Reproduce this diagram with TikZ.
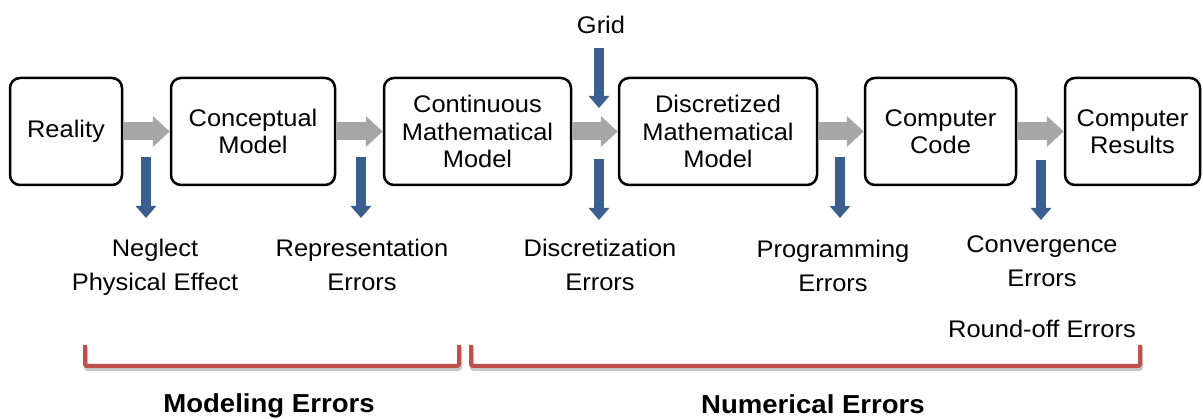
\documentclass[tikz,border=0pt]{standalone}
\usepackage{fontspec}
\setmainfont[FakeStretch=1.06]{Liberation Sans}
\usetikzlibrary{arrows.meta}
\definecolor{arrowgray}{HTML}{A6A6A6}
\definecolor{errblue}{HTML}{3A5F8F}
\definecolor{bracketred}{HTML}{C0504D}
\begin{document}
\begin{tikzpicture}[x=1pt,y=-1pt,
  box/.style={draw=black, line width=2.5pt, rounded corners=10pt, minimum height=107pt,
    inner sep=0pt, align=center, font=\fontsize{24}{27.5}\selectfont},
  flow/.style={draw=arrowgray, line width=18pt, -{Triangle[length=17pt,width=30pt]}},
  err/.style={draw=errblue, line width=10pt, -{Triangle[length=12pt,width=20pt]}},
  lbl/.style={anchor=north, inner sep=0pt, align=center, font=\fontsize{24}{34}\selectfont},
  grp/.style={anchor=north, inner sep=0pt, font=\bfseries\fontsize{26}{30}\selectfont},
  brace/.style={draw=bracketred, line width=4pt, rounded corners=2pt},
  braceshadow/.style={draw=black!22, line width=4pt, rounded corners=2pt}
]
\useasboundingbox (0,0) rectangle (1203,419);

% boxes
\node[box, minimum width=112pt] (reality) at (66,131.5) {Reality};
\node[box, minimum width=164pt] (concept) at (253,131.5) {Conceptual\\Model};
\node[box, minimum width=187pt] (cont) at (477.5,131.5) {Continuous\\Mathematical\\Model};
\node[box, minimum width=198pt] (disc) at (718,131.5) {Discretized\\Mathematical\\Model};
\node[box, minimum width=151pt] (code) at (940.5,131.5) {Computer\\Code};
\node[box, minimum width=135pt] (results) at (1132.5,131.5) {Computer\\Results};

% flow arrows
\draw[flow] (reality) -- (concept);
\draw[flow] (concept) -- (cont);
\draw[flow] (cont) -- (disc);
\draw[flow] (disc) -- (code);
\draw[flow] (code) -- (results);

% labels
\node[lbl] (grid) at (601,16) {Grid};
\node[lbl] (neglect) at (155,239) {Neglect\\Physical Effect};
\node[lbl] (repr) at (362,239) {Representation\\Errors};
\node[lbl] (discerr) at (600,239) {Discretization\\Errors};
\node[lbl] (progerr) at (833,240) {Programming\\Errors};
\node[lbl] (converr) at (1042,236) {Convergence\\Errors};
\node[lbl] (roundoff) at (1042,320) {Round-off Errors};

% error arrows
\coordinate (g1) at (599,48);  \coordinate (g2) at (599,108);
\coordinate (a1) at (146,157); \coordinate (a2) at (146,218);
\coordinate (b1) at (361,157); \coordinate (b2) at (361,218);
\coordinate (c1) at (599,159); \coordinate (c2) at (599,220);
\coordinate (d1) at (840,157); \coordinate (d2) at (840,218);
\coordinate (f1) at (1041,160); \coordinate (f2) at (1041,220);
\draw[err] (g1) -- (g2);
\draw[err] (a1) -- (a2);
\draw[err] (b1) -- (b2);
\draw[err] (c1) -- (c2);
\draw[err] (d1) -- (d2);
\draw[err] (f1) -- (f2);

% brackets
\draw[braceshadow] (86,347) -- (86,369) -- (460,369) -- (460,347);
\draw[braceshadow] (472,347) -- (472,369) -- (1141,369) -- (1141,347);
\draw[brace] (85,345) -- (85,366) -- (459,366) -- (459,345);
\draw[brace] (471,345) -- (471,366) -- (1140,366) -- (1140,345);

\node[grp] (modeling) at (269,393) {Modeling Errors};
\node[grp] (numerical) at (813,394) {Numerical Errors};
\end{tikzpicture}
\end{document}
